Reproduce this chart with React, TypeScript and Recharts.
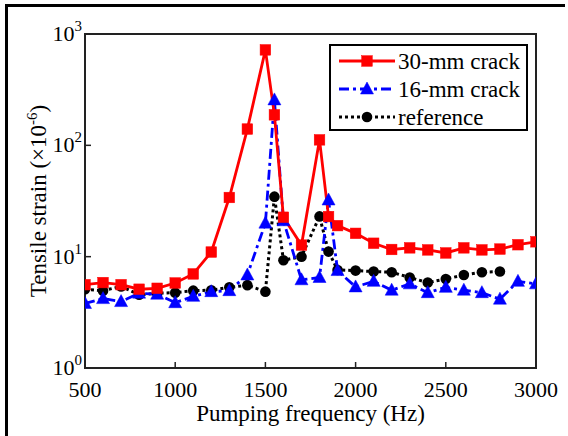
import React from 'react';
import { LineChart, Line, XAxis, YAxis, ReferenceArea, Label } from 'recharts';

const frequencies = [500, 600, 700, 800, 900, 1000, 1100, 1200, 1300, 1400, 1500, 1550, 1600, 1700, 1800, 1850, 1900, 2000, 2100, 2200, 2300, 2400, 2500, 2600, 2700, 2800, 2900, 3000];
const crack30 = [5.6, 5.85, 5.6, 5.1, 5.2, 5.8, 7.0, 11, 34, 140, 720, 188, 22.6, 12.7, 112, 22.9, 19, 16.2, 13.2, 11.6, 12.0, 11.5, 10.8, 12.0, 11.5, 11.7, 12.8, 13.6];
const crack16 = [3.8, 4.2, 3.95, 4.7, 4.6, 3.86, 4.4, 4.85, 4.95, 6.85, 20, 256, 21, 6.2, 6.5, 32.3, 7.5, 5.35, 6.0, 5.0, 5.7, 4.75, 5.3, 5.0, 4.75, 4.15, 6.0, 5.7];
const referenceSeries = [5.1, 4.95, 5.4, 4.55, 4.7, 4.75, 4.95, 5.0, 5.3, 5.55, 4.85, 34.6, 9.3, 10.0, 23, 11.1, 7.6, 7.5, 7.35, 7.25, 6.5, 5.85, 6.3, 6.85, 7.25, 7.35, null, null];
const seriesNames = ['30-mm crack', '16-mm crack', 'reference'];
const xTicks = [500, 1000, 1500, 2000, 2500, 3000];
const yTicks = [1, 10, 100, 1000];

const data = frequencies.map((f, i) => ({
  f,
  c30: crack30[i],
  c16: crack16[i],
  ref: referenceSeries[i],
}));

const FONT = '"Liberation Serif", "Times New Roman", serif';
const RED = '#ff0000';
const BLUE = '#0000ff';
const BLACK = '#000000';

const squareShape = (cx: number, cy: number, key?: any) => (
  <rect key={key} x={cx - 5.3} y={cy - 5.3} width={10.6} height={10.6} fill={RED} stroke={RED} strokeWidth={0.5} />
);
const triShape = (cx: number, cy: number, key?: any) => (
  <polygon key={key} points={`${cx},${cy - 7} ${cx - 6.5},${cy + 5} ${cx + 6.5},${cy + 5}`} fill={BLUE} stroke={BLUE} strokeWidth={0.5} />
);
const circShape = (cx: number, cy: number, key?: any) => (
  <circle key={key} cx={cx} cy={cy} r={5.3} fill={BLACK} />
);

const RedDot = (p: any) => (p.cx == null || p.cy == null || p.value == null ? <g key={p.index} /> : squareShape(p.cx, p.cy, p.index));
const BlueDot = (p: any) => (p.cx == null || p.cy == null || p.value == null ? <g key={p.index} /> : triShape(p.cx, p.cy, p.index));
const BlackDot = (p: any) => (p.cx == null || p.cy == null || p.value == null ? <g key={p.index} /> : circShape(p.cx, p.cy, p.index));

const XTick = (p: any) => (
  <text x={p.x} y={p.y + 29} textAnchor="middle" fontFamily={FONT} fontSize={22} fill="#000">
    {p.payload.value}
  </text>
);

const YTick = (p: any) => {
  const exp = Math.round(Math.log10(p.payload.value));
  return (
    <text x={p.x} y={p.y + 7} textAnchor="end" fontFamily={FONT} fontSize={22} fill="#000">
      <tspan>10</tspan>
      <tspan dy={-10} fontSize={15}>{exp}</tspan>
    </text>
  );
};

const YLabel = (props: any) => {
  const vb = props.viewBox;
  const cx = 46;
  const cy = vb.y + vb.height / 2;
  return (
    <text x={cx} y={cy} transform={`rotate(-90, ${cx}, ${cy})`} textAnchor="middle" fontFamily={FONT} fontSize={23} fill="#000">
      <tspan>Tensile strain (×10</tspan>
      <tspan dy={-9} fontSize={15}>-6</tspan>
      <tspan dy={9}>)</tspan>
    </text>
  );
};

const XLabel = (props: any) => {
  const vb = props.viewBox;
  return (
    <text x={vb.x + vb.width / 2} y={vb.y + 53} textAnchor="middle" fontFamily={FONT} fontSize={23} fill="#000">
      Pumping frequency (Hz)
    </text>
  );
};

const LegendBox = () => {
  const rows = [
    { name: seriesNames[0], color: RED, dash: undefined as string | undefined, shape: squareShape },
    { name: seriesNames[1], color: BLUE, dash: '10 4 3 4', shape: triShape },
    { name: seriesNames[2], color: BLACK, dash: '3 3', shape: circShape },
  ];
  const ys = [17, 45, 73];
  return (
    <div style={{ position: 'absolute', left: 329, top: 44, width: 199, height: 87, border: '2px solid #000', background: '#fff', boxSizing: 'border-box' }}>
      <svg width={199} height={87} style={{ display: 'block', position: 'absolute', left: -2, top: -2, overflow: 'visible' }}>
        {rows.map((r, i) => (
          <g key={r.name}>
            <line x1={10} x2={66} y1={ys[i]} y2={ys[i]} stroke={r.color} strokeWidth={2.8} strokeDasharray={r.dash} />
            {r.shape(38, ys[i])}
            <text x={69} y={ys[i] + 7.5} fontFamily={FONT} fontSize={23} fill="#000">{r.name}</text>
          </g>
        ))}
      </svg>
    </div>
  );
};

export default function App() {
  return (
    <div style={{ position: 'absolute', left: 0, top: 0, width: 568, height: 436, overflow: 'hidden', background: '#fff' }}>
      <div style={{ position: 'absolute', left: 5, top: 4, width: 560, height: 440, borderLeft: '3px solid #000', borderTop: '3px solid #000', boxSizing: 'border-box' }} />
      <div style={{ position: 'absolute', left: 0, top: 0 }}>
        <LineChart width={568} height={436} data={data} margin={{ top: 34, right: 32, bottom: 0, left: 0 }}>
          <ReferenceArea x1={500} x2={3000} y1={1} y2={1000} fill="none" stroke="#222" strokeWidth={2} ifOverflow="visible" />
          <XAxis
            dataKey="f"
            type="number"
            domain={[500, 3000]}
            ticks={xTicks}
            interval={0}
            height={68}
            tickSize={-6}
            tickMargin={6}
            tick={XTick}
            axisLine={{ stroke: '#222', strokeWidth: 2 }}
            tickLine={{ stroke: '#222', strokeWidth: 1.5 }}
            allowDataOverflow
          >
            <Label content={XLabel} />
          </XAxis>
          <YAxis
            scale="log"
            domain={[1, 1000]}
            ticks={yTicks}
            interval={0}
            width={85}
            tickSize={-6}
            tickMargin={9}
            tick={YTick}
            axisLine={{ stroke: '#222', strokeWidth: 2 }}
            tickLine={{ stroke: '#222', strokeWidth: 1.5 }}
            allowDataOverflow
          >
            <Label content={YLabel} />
          </YAxis>
          <Line dataKey="ref" name={seriesNames[2]} stroke={BLACK} strokeWidth={3} strokeDasharray="3 3" dot={BlackDot} isAnimationActive={false} connectNulls={false} />
          <Line dataKey="c16" name={seriesNames[1]} stroke={BLUE} strokeWidth={2.8} strokeDasharray="10 4 3 4" dot={BlueDot} isAnimationActive={false} />
          <Line dataKey="c30" name={seriesNames[0]} stroke={RED} strokeWidth={2.8} dot={RedDot} isAnimationActive={false} />
        </LineChart>
      </div>
      <LegendBox />
    </div>
  );
}
